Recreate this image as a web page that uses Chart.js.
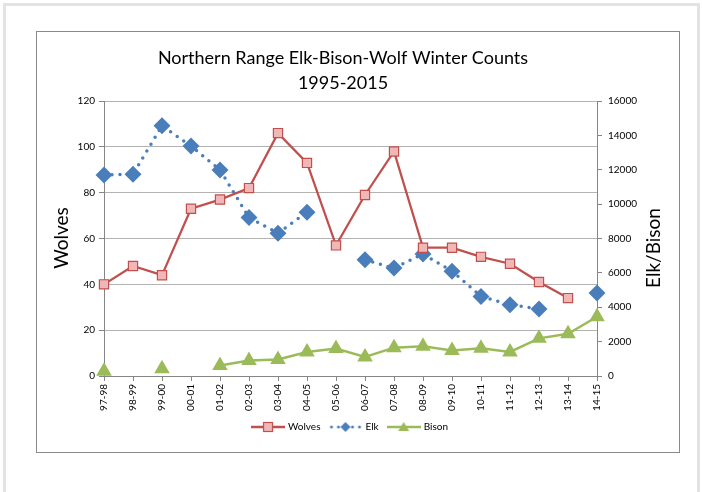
<!DOCTYPE html>
<html>
<head>
<meta charset="utf-8">
<script src="https://cdn.jsdelivr.net/npm/chart.js@4.4.0/dist/chart.umd.min.js"></script>
<style>
body { margin: 0; background: #fff; }
#frame { position: absolute; left: 3px; top: 3px; width: 691px; height: 540px; border: 3px solid #e3e3e3; }
#box { position: absolute; left: 36px; top: 31px; width: 642px; height: 420px; border: 1px solid #8a8a8a; background: #fff; }
</style>
</head>
<body>
<div id="frame"></div>
<div id="box"><canvas id="myChart" width="642" height="420"></canvas></div>
<script>
// winter seasons
const seasons = ['97-98', '98-99', '99-00', '00-01', '01-02', '02-03', '03-04', '04-05', '05-06',
    '06-07', '07-08', '08-09', '09-10', '10-11', '11-12', '12-13', '13-14', '14-15'];
// counts (wolves on left axis, elk and bison on right axis)
const wolves = [40, 48, 44, 73, 77, 82, 106, 93, 57, 79, 98, 56, 56, 52, 49, 41, 34, null];
const elk = [11700, 11740, 14560, 13380, 11990, 9220, 8310, 9530, null, 6760, 6280, 7100, 6100, 4630, 4150, 3900, null, 4830];
const bison = [280, null, 420, null, 610, 900, 960, 1400, 1600, 1110, 1650, 1730, 1490, 1610, 1400, 2190, 2460, 3450];

const wolfColor = '#c0504d';
const wolfFill = '#f0b7b6';
const elkColor = '#4a7ebb';
const bisonColor = '#9bbb59';
const axisGray = '#868686';

// little line+marker pictures for the legend, like Excel
function legendIcon(kind) {
    const c = document.createElement('canvas');
    c.width = 34; c.height = 14;
    const g = c.getContext('2d');
    g.beginPath();
    if (kind === 'elk') {
        g.strokeStyle = elkColor; g.lineWidth = 3; g.lineCap = 'round'; g.setLineDash([0, 7]);
        g.moveTo(3, 7); g.lineTo(32, 7); g.stroke();
        g.setLineDash([]);
        g.fillStyle = elkColor;
        g.beginPath(); g.moveTo(17, 2); g.lineTo(22, 7); g.lineTo(17, 12); g.lineTo(12, 7); g.closePath(); g.fill();
    } else if (kind === 'wolves') {
        g.strokeStyle = wolfColor; g.lineWidth = 2.5;
        g.moveTo(0, 7); g.lineTo(34, 7); g.stroke();
        g.fillStyle = wolfFill; g.lineWidth = 1.2;
        g.fillRect(12.5, 2.5, 9, 9); g.strokeRect(12.5, 2.5, 9, 9);
    } else {
        g.strokeStyle = bisonColor; g.lineWidth = 2.5;
        g.moveTo(0, 7); g.lineTo(34, 7); g.stroke();
        g.fillStyle = bisonColor;
        g.beginPath(); g.moveTo(17, 2); g.lineTo(22.5, 11); g.lineTo(11.5, 11); g.closePath(); g.fill();
    }
    return c;
}
const icons = [legendIcon('wolves'), legendIcon('elk'), legendIcon('bison')];

// axis titles read bottom-to-top on both sides
const axisTitles = {
    id: 'axisTitles',
    afterDraw(chart) {
        const ctx = chart.ctx;
        ctx.save();
        ctx.fillStyle = '#000';
        ctx.textAlign = 'center';
        ctx.textBaseline = 'middle';
        ctx.font = '19px Lato';
        ctx.translate(25, 206);
        ctx.rotate(-Math.PI / 2);
        ctx.fillText('Wolves', 0, 0);
        ctx.restore();
        ctx.save();
        ctx.fillStyle = '#000';
        ctx.textAlign = 'center';
        ctx.textBaseline = 'middle';
        ctx.font = '19px Lato';
        ctx.translate(617, 216);
        ctx.rotate(-Math.PI / 2);
        ctx.fillText('Elk/Bison', 0, 0);
        ctx.restore();
    }
};

const ctx = document.getElementById('myChart');
const myChart = new Chart(ctx, {
    type: 'line',
    data: {
        labels: seasons,
        datasets: [{
            label: 'Wolves',
            data: wolves,
            yAxisID: 'y',
            borderColor: wolfColor,
            borderWidth: 2.25,
            pointStyle: 'rect',
            pointRadius: 6.5,
            pointBackgroundColor: wolfFill,
            pointBorderColor: wolfColor,
            pointBorderWidth: 1.2,
            tension: 0
        }, {
            label: 'Elk',
            data: elk,
            yAxisID: 'y1',
            borderColor: elkColor,
            borderWidth: 3.5,
            borderDash: [0, 8],
            borderCapStyle: 'round',
            pointStyle: 'rectRot',
            pointRadius: 6,
            pointBackgroundColor: elkColor,
            pointBorderColor: elkColor,
            tension: 0
        }, {
            label: 'Bison',
            data: bison,
            yAxisID: 'y1',
            borderColor: bisonColor,
            borderWidth: 2.5,
            pointStyle: 'triangle',
            pointRadius: 6.5,
            pointBackgroundColor: bisonColor,
            pointBorderColor: bisonColor,
            tension: 0
        }]
    },
    options: {
        responsive: false,
        animation: false,
        spanGaps: false,
        layout: { padding: { top: 0, left: 0, right: 30, bottom: 10 } },
        plugins: {
            title: {
                display: true,
                text: ['Northern Range Elk-Bison-Wolf Winter Counts', '1995-2015'],
                color: '#000',
                font: { family: 'Lato', size: 18, weight: 'normal', lineHeight: 1.39 },
                padding: { top: 13.5, bottom: 5.5 }
            },
            legend: {
                position: 'bottom',
                fullSize: false,
                labels: {
                    usePointStyle: true,
                    pointStyleWidth: 30,
                    padding: 10,
                    color: '#000',
                    font: { family: 'Lato', size: 10 },
                    generateLabels: chart => chart.data.datasets.map((ds, i) => ({
                        text: ds.label,
                        pointStyle: icons[i],
                        fontColor: '#000',
                        datasetIndex: i,
                        lineWidth: 0,
                        strokeStyle: 'transparent',
                        fillStyle: 'transparent'
                    }))
                }
            },
            tooltip: { enabled: false }
        },
        scales: {
            x: {
                offset: false,
                grid: { drawOnChartArea: false, drawTicks: true, tickLength: 5, color: axisGray },
                border: { color: axisGray },
                ticks: {
                    minRotation: 90, maxRotation: 90, autoSkip: false, padding: 3,
                    color: '#000', font: { family: 'Lato', size: 10 }
                },
                afterFit: s => { s.height = 36; }
            },
            y: {
                position: 'left',
                min: 0,
                max: 120,
                grid: { color: '#b3b3b3', tickColor: axisGray, tickLength: 5 },
                border: { color: axisGray },
                ticks: { stepSize: 20, padding: 4, color: '#000', font: { family: 'Lato', size: 10 } },
                afterFit: s => { s.width = 67; }
            },
            y1: {
                position: 'right',
                min: 0,
                max: 16000,
                grid: { drawOnChartArea: false, color: axisGray, tickLength: 5 },
                border: { color: axisGray },
                ticks: {
                    stepSize: 2000, padding: 6, color: '#000', font: { family: 'Lato', size: 10 },
                    callback: v => String(v)
                },
                afterFit: s => { s.width = 52; }
            }
        }
    },
    plugins: [axisTitles]
});
</script>
</body>
</html>
